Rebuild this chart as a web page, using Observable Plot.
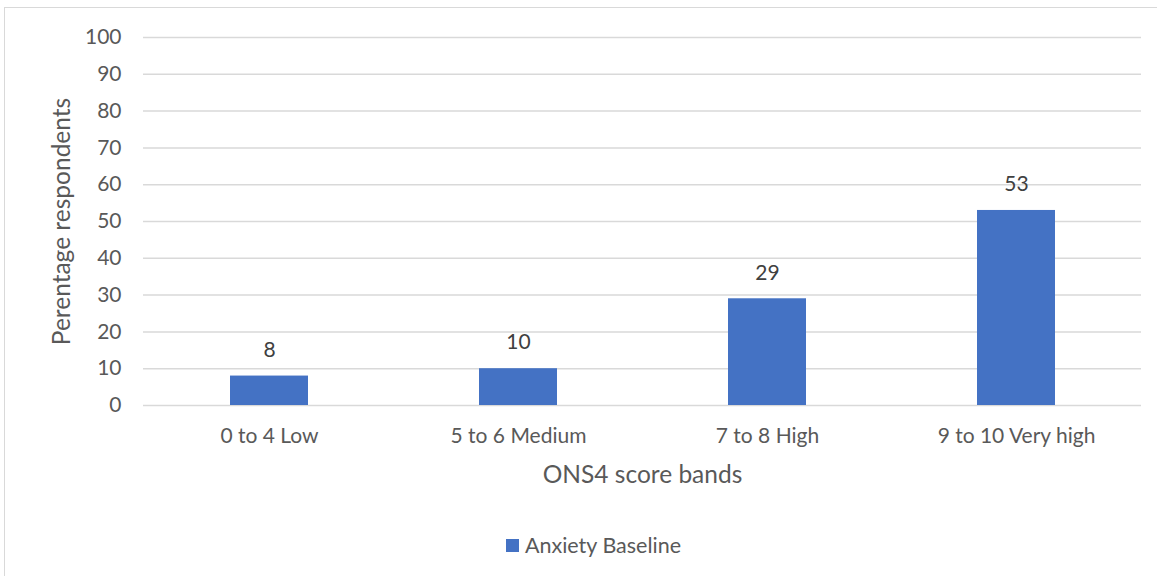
<!DOCTYPE html>
<html>
<head>
<meta charset="utf-8">
<script src="https://cdn.jsdelivr.net/npm/d3@7"></script>
<script src="https://cdn.jsdelivr.net/npm/@observablehq/plot@0.6"></script>
<style>
  html, body { margin: 0; padding: 0; background: #fff; }
  body { width: 1157px; height: 576px; overflow: hidden; position: relative; font-family: Lato, "Open Sans", sans-serif; }
  #frame { position: absolute; left: 4px; top: 7px; width: 1200px; height: 620px; border-left: 1.5px solid #d9d9d9; border-top: 1.5px solid #d9d9d9; }
  #chart { position: absolute; left: 0; top: 0; }
  #legend { position: absolute; top: 532px; left: 0; width: 1157px; display: flex; justify-content: center; align-items: center; font-size: 21.5px; color: #595959; padding-left: 30px; box-sizing: border-box; }
  #legend .sw { width: 13px; height: 13px; background: #4472C4; margin-right: 6px; }
</style>
</head>
<body>
<div id="frame"></div>
<div id="chart"></div>
<div id="legend"><span class="sw"></span><span>Anxiety Baseline</span></div>
<script>
// ONS4 anxiety score bands, baseline survey (% of respondents)
const bands = ["0 to 4 Low", "5 to 6 Medium", "7 to 8 High", "9 to 10 Very high"];
const baseline = [8, 10, 29, 53];
const yTicks = [0, 10, 20, 30, 40, 50, 60, 70, 80, 90, 100];

const rows = bands.map((band, i) => ({band, value: baseline[i]}));

const chart = Plot.plot({
  width: 1157,
  height: 495,
  marginLeft: 143,
  marginRight: 16,
  marginTop: 37,
  marginBottom: 90,
  style: {fontFamily: "Lato, 'Open Sans', sans-serif", fontSize: "21px", color: "#595959", background: "transparent"},
  x: {domain: bands, paddingInner: 0.687, paddingOuter: 0.3435, label: null},
  y: {domain: [0, 100], label: null},
  marks: [
    Plot.gridY(yTicks, {stroke: "#d9d9d9", strokeOpacity: 1, strokeWidth: 1.5}),
    Plot.axisY(yTicks, {tickSize: 0, tickPadding: 22, fontSize: 21, fill: "#595959"}),
    Plot.axisX({tickSize: 0, tickPadding: 23, fontSize: 21, fill: "#595959"}),
    Plot.barY(rows, {x: "band", y: "value", fill: "#4472C4"}),
    Plot.text(rows, {x: "band", y: "value", text: d => String(d.value), dy: -26, fontSize: 21, fill: "#404040"}),
    Plot.text(["ONS4 score bands"], {frameAnchor: "bottom", dy: 70, fontSize: 24.5, fill: "#595959", lineAnchor: "middle"}),
    Plot.text(["Perentage respondents"], {frameAnchor: "left", dx: -81, rotate: -90, textAnchor: "middle", fontSize: 24.5, fill: "#595959"})
  ]
});
document.getElementById("chart").appendChild(chart);
</script>
</body>
</html>
